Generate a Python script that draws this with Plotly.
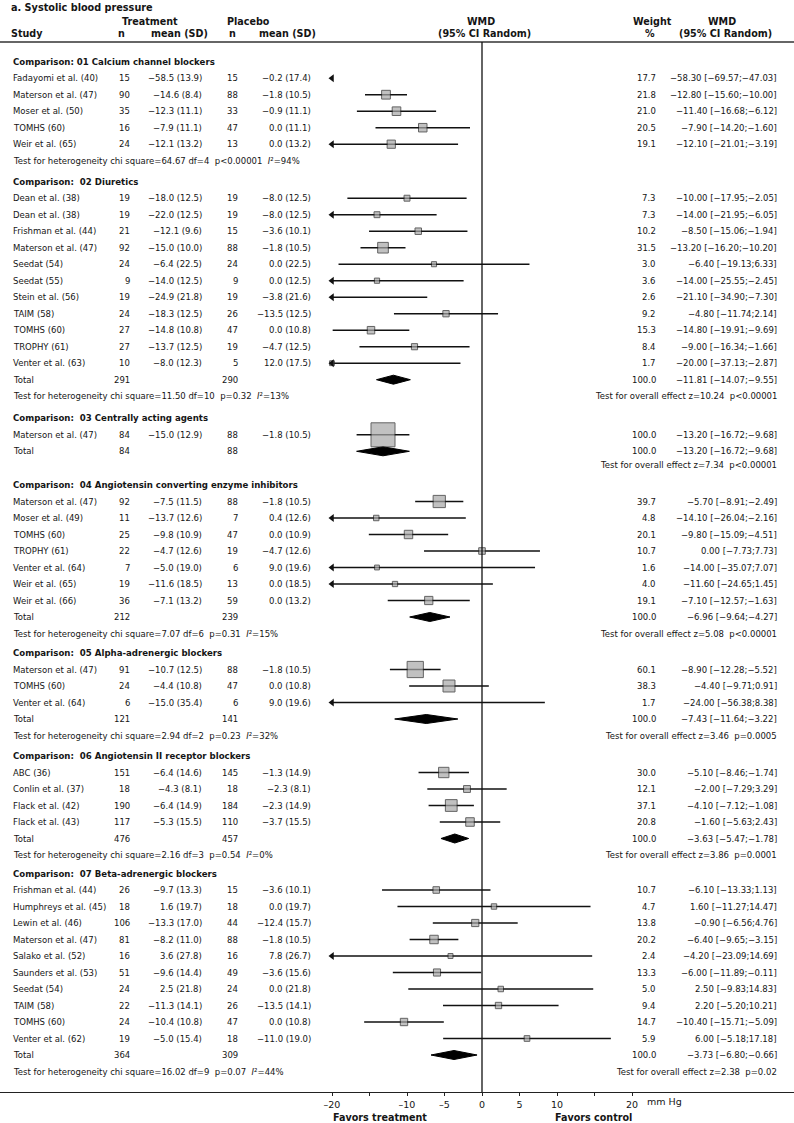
import plotly.graph_objects as go

# ---------------- data ----------------
SECTION_TITLES = [
    "Comparison: 01 Calcium channel blockers",
    "Comparison:\u00a0 02 Diuretics",
    "Comparison:\u00a0 03 Centrally acting agents",
    "Comparison:\u00a0 04 Angiotensin converting enzyme inhibitors",
    "Comparison:\u00a0 05 Alpha-adrenergic blockers",
    "Comparison:\u00a0 06 Angiotensin II receptor blockers",
    "Comparison:\u00a0 07 Beta-adrenergic blockers",
]

SECTION = [0, 0, 0, 0, 0,
           1, 1, 1, 1, 1, 1, 1, 1, 1, 1, 1,
           2,
           3, 3, 3, 3, 3, 3, 3,
           4, 4, 4,
           5, 5, 5, 5,
           6, 6, 6, 6, 6, 6, 6, 6, 6, 6]

STUDY = [
    "Fadayomi et al. (40)", "Materson et al. (47)", "Moser et al. (50)", "TOMHS (60)", "Weir et al. (65)",
    "Dean et al. (38)", "Dean et al. (38)", "Frishman et al. (44)", "Materson et al. (47)", "Seedat (54)",
    "Seedat (55)", "Stein et al. (56)", "TAIM (58)", "TOMHS (60)", "TROPHY (61)", "Venter et al. (63)",
    "Materson et al. (47)",
    "Materson et al. (47)", "Moser et al. (49)", "TOMHS (60)", "TROPHY (61)", "Venter et al. (64)",
    "Weir et al. (65)", "Weir et al. (66)",
    "Materson et al. (47)", "TOMHS (60)", "Venter et al. (64)",
    "ABC (36)", "Conlin et al. (37)", "Flack et al. (42)", "Flack et al. (43)",
    "Frishman et al. (44)", "Humphreys et al. (45)", "Lewin et al. (46)", "Materson et al. (47)",
    "Salako et al. (52)", "Saunders et al. (53)", "Seedat (54)", "TAIM (58)", "TOMHS (60)", "Venter et al. (62)",
]

N_T = [15, 90, 35, 16, 24,
       19, 19, 21, 92, 24, 9, 19, 24, 27, 27, 10,
       84,
       92, 11, 25, 22, 7, 19, 36,
       91, 24, 6,
       151, 18, 190, 117,
       26, 18, 106, 81, 16, 51, 24, 22, 24, 19]
MEAN_T = [-58.5, -14.6, -12.3, -7.9, -12.1,
          -18.0, -22.0, -12.1, -15.0, -6.4, -14.0, -24.9, -18.3, -14.8, -13.7, -8.0,
          -15.0,
          -7.5, -13.7, -9.8, -4.7, -5.0, -11.6, -7.1,
          -10.7, -4.4, -15.0,
          -6.4, -4.3, -6.4, -5.3,
          -9.7, 1.6, -13.3, -8.2, 3.6, -9.6, 2.5, -11.3, -10.4, -5.0]
SD_T = [13.9, 8.4, 11.1, 11.1, 13.2,
        12.5, 12.5, 9.6, 10.0, 22.5, 12.5, 21.8, 12.5, 10.8, 12.5, 12.3,
        12.9,
        11.5, 12.6, 10.9, 12.6, 19.0, 18.5, 13.2,
        12.5, 10.8, 35.4,
        14.6, 8.1, 14.9, 15.5,
        13.3, 19.7, 17.0, 11.0, 27.8, 14.4, 21.8, 14.1, 10.8, 15.4]
N_P = [15, 88, 33, 47, 13,
       19, 19, 15, 88, 24, 9, 19, 26, 47, 19, 5,
       88,
       88, 7, 47, 19, 6, 13, 59,
       88, 47, 6,
       145, 18, 184, 110,
       15, 18, 44, 88, 16, 49, 24, 26, 47, 18]
MEAN_P = [-0.2, -1.8, -0.9, 0.0, 0.0,
          -8.0, -8.0, -3.6, -1.8, 0.0, 0.0, -3.8, -13.5, 0.0, -4.7, 12.0,
          -1.8,
          -1.8, 0.4, 0.0, -4.7, 9.0, 0.0, 0.0,
          -1.8, 0.0, 9.0,
          -1.3, -2.3, -2.3, -3.7,
          -3.6, 0.0, -12.4, -1.8, 7.8, -3.6, 0.0, -13.5, 0.0, -11.0]
SD_P = [17.4, 10.5, 11.1, 11.1, 13.2,
        12.5, 12.5, 10.1, 10.5, 22.5, 12.5, 21.6, 12.5, 10.8, 12.5, 17.5,
        10.5,
        10.5, 12.6, 10.9, 12.6, 19.6, 18.5, 13.2,
        10.5, 10.8, 19.6,
        14.9, 8.1, 14.9, 15.5,
        10.1, 19.7, 15.7, 10.5, 26.7, 15.6, 21.8, 14.1, 10.8, 19.0]
WEIGHT = [17.7, 21.8, 21.0, 20.5, 19.1,
          7.3, 7.3, 10.2, 31.5, 3.0, 3.6, 2.6, 9.2, 15.3, 8.4, 1.7,
          100.0,
          39.7, 4.8, 20.1, 10.7, 1.6, 4.0, 19.1,
          60.1, 38.3, 1.7,
          30.0, 12.1, 37.1, 20.8,
          10.7, 4.7, 13.8, 20.2, 2.4, 13.3, 5.0, 9.4, 14.7, 5.9]
WMD = [-58.30, -12.80, -11.40, -7.90, -12.10,
       -10.00, -14.00, -8.50, -13.20, -6.40, -14.00, -21.10, -4.80, -14.80, -9.00, -20.00,
       -13.20,
       -5.70, -14.10, -9.80, 0.00, -14.00, -11.60, -7.10,
       -8.90, -4.40, -24.00,
       -5.10, -2.00, -4.10, -1.60,
       -6.10, 1.60, -0.90, -6.40, -4.20, -6.00, 2.50, 2.20, -10.40, 6.00]
CI_LO = [-69.57, -15.60, -16.68, -14.20, -21.01,
         -17.95, -21.95, -15.06, -16.20, -19.13, -25.55, -34.90, -11.74, -19.91, -16.34, -37.13,
         -16.72,
         -8.91, -26.04, -15.09, -7.73, -35.07, -24.65, -12.57,
         -12.28, -9.71, -56.38,
         -8.46, -7.29, -7.12, -5.63,
         -13.33, -11.27, -6.56, -9.65, -23.09, -11.89, -9.83, -5.20, -15.71, -5.18]
CI_HI = [-47.03, -10.00, -6.12, -1.60, -3.19,
         -2.05, -6.05, -1.94, -10.20, 6.33, -2.45, -7.30, 2.14, -9.69, -1.66, -2.87,
         -9.68,
         -2.49, -2.16, -4.51, 7.73, 7.07, 1.45, -1.63,
         -5.52, 0.91, 8.38,
         -1.74, 3.29, -1.08, 2.43,
         1.13, 14.47, 4.76, -3.15, 14.69, -0.11, 14.83, 10.21, -5.09, 17.18]

TOTAL_N_T = [None, 291, 84, 212, 121, 476, 364]
TOTAL_N_P = [None, 290, 88, 239, 141, 457, 309]
TOTAL_WMD = [None, -11.81, -13.20, -6.96, -7.43, -3.63, -3.73]
TOTAL_LO = [None, -14.07, -16.72, -9.64, -11.64, -5.47, -6.80]
TOTAL_HI = [None, -9.55, -9.68, -4.27, -3.22, -1.78, -0.66]

HET_CHI = [64.67, 11.50, None, 7.07, 2.94, 2.16, 16.02]
HET_DF = [4, 10, None, 6, 2, 3, 9]
HET_P = ["p<0.00001", "p=0.32", None, "p=0.31", "p=0.23", "p=0.54", "p=0.07"]
HET_I2 = [94, 13, None, 15, 32, 0, 44]
OVERALL_Z = [None, 10.24, 7.34, 5.08, 3.46, 3.86, 2.38]
OVERALL_P = [None, "p<0.00001", "p<0.00001", "p<0.00001", "p=0.0005", "p=0.0001", "p=0.02"]

TICK_VALS = [-20, -10, -5, 0, 5, 10, 20]
TICK_TEXT = ["\u201320", "\u201310", "\u20135", "0", "5", "10", "20"]
MINOR_TICK_VALS = [-15, 15]

# ---------------- layout constants ----------------
W, H = 794, 1123
FONT = "DejaVu Sans"
TXT = "#151515"
X0_PX = 482.0          # pixel of WMD = 0
PX_PER_UNIT = 7.5
CLIP = -20.0
HEAD_Y = [61.7, 181.7, 418.3, 485.0, 653.0, 756.0, 873.5]
STEP = 16.5
AXIS_Y = 1092
HEADER_LINE_Y = 42
BODY = 8.5

X_STUDY, X_NT, X_MT, X_NP, X_MP, X_WT, X_CI = 12, 131, 203, 239, 312, 657, 778


def fmt(v, d):
    s = f"{abs(v):.{d}f}"
    return ("\u2212" + s) if v < 0 else s


annotations = []


def txt(x, y, s, anchor="left", size=BODY, bold=False):
    if bold:
        s = f"<b>{s}</b>"
    annotations.append(dict(x=x / W, xref="paper", y=y, yref="y", text=s, showarrow=False,
                            xanchor=anchor, yanchor="middle", borderpad=0,
                            font=dict(size=size, family=FONT, color=TXT)))


# header
txt(10, 7, "a. Systolic blood pressure", size=9.7, bold=True)
txt(150, 21, "Treatment", "center", 9.6, True)
txt(248.5, 21, "Placebo", "center", 9.6, True)
txt(481, 21, "WMD", "center", 9.6, True)
txt(652.5, 21, "Weight", "center", 9.6, True)
txt(722, 21, "WMD", "center", 9.6, True)
txt(10, 33.5, "Study", "left", 9.6, True)
txt(121.5, 33.5, "n", "center", 9.6, True)
txt(179, 33.5, "mean (SD)", "center", 9.6, True)
txt(232.5, 33.5, "n", "center", 9.6, True)
txt(287.5, 33.5, "mean (SD)", "center", 9.6, True)
txt(484.5, 33.5, "(95% CI Random)", "center", 9.6, True)
txt(650, 33.5, "%", "center", 9.6, True)
txt(725.5, 33.5, "(95% CI Random)", "center", 9.6, True)

# rows
line_x, line_y = [], []
sq_x, sq_y, sq_s = [], [], []
ar_x, ar_y = [], []
dia_x, dia_y = [], []

for s, title in enumerate(SECTION_TITLES):
    hy = HEAD_Y[s]
    txt(X_STUDY, hy, title, bold=True, size=8.6)
    idx = [i for i, sec in enumerate(SECTION) if sec == s]
    y = hy
    for i in idx:
        y += STEP
        txt(X_STUDY, y, STUDY[i])
        txt(X_NT, y, str(N_T[i]), "right")
        txt(X_MT, y, f"{fmt(MEAN_T[i], 1)} ({SD_T[i]:.1f})", "right")
        txt(X_NP, y, str(N_P[i]), "right")
        txt(X_MP, y, f"{fmt(MEAN_P[i], 1)} ({SD_P[i]:.1f})", "right")
        txt(X_WT, y, f"{WEIGHT[i]:.1f}", "right")
        txt(X_CI, y, f"{fmt(WMD[i], 2)} [{fmt(CI_LO[i], 2)};{fmt(CI_HI[i], 2)}]", "right")
        lo, hi = CI_LO[i], CI_HI[i]
        if hi > CLIP:
            line_x += [max(lo, CLIP), min(hi, 20), None]
            line_y += [y, y, None]
        if lo < CLIP:
            ar_x.append(CLIP)
            ar_y.append(y)
        if WMD[i] >= CLIP:
            sq_x.append(WMD[i])
            sq_y.append(y)
            sq_s.append(4.5 + 0.195 * WEIGHT[i])
    if TOTAL_N_T[s] is not None:
        y += STEP
        txt(X_STUDY, y, "Total")
        txt(X_NT, y, str(TOTAL_N_T[s]), "right")
        txt(X_NP, y, str(TOTAL_N_P[s]), "right")
        txt(X_WT, y, "100.0", "right")
        txt(X_CI, y, f"{fmt(TOTAL_WMD[s], 2)} [{fmt(TOTAL_LO[s], 2)};{fmt(TOTAL_HI[s], 2)}]", "right")
        dia_x += [TOTAL_LO[s], TOTAL_WMD[s], TOTAL_HI[s], TOTAL_WMD[s], TOTAL_LO[s], None]
        dia_y += [y, y - 4.5, y, y + 4.5, y, None]
    if HET_CHI[s] is not None:
        y += STEP
        txt(X_STUDY, y, f"Test for heterogeneity chi square={HET_CHI[s]:.2f} df={HET_DF[s]}\u00a0 "
                        f"{HET_P[s]}\u00a0 <i>I</i>\u00b2={HET_I2[s]}%")
    else:
        y += STEP * 0.8
    if OVERALL_Z[s] is not None:
        txt(X_CI, y, f"Test for overall effect z={OVERALL_Z[s]:.2f}\u00a0 {OVERALL_P[s]}", "right")

fig = go.Figure()
fig.add_trace(go.Scatter(x=line_x, y=line_y, mode="lines", line=dict(color="#111", width=1.5),
                         hoverinfo="skip", showlegend=False))
fig.add_trace(go.Scatter(x=dia_x, y=dia_y, mode="lines", fill="toself", fillcolor="#000",
                         line=dict(color="#000", width=1), hoverinfo="skip", showlegend=False))
fig.add_trace(go.Scatter(x=sq_x, y=sq_y, mode="markers",
                         marker=dict(symbol="square", size=sq_s, color="#a8a8a8",
                                     line=dict(color="#222", width=1)),
                         hoverinfo="skip", showlegend=False))
fig.add_trace(go.Scatter(x=ar_x, y=ar_y, mode="markers",
                         marker=dict(symbol="triangle-left", size=7, color="#111", line=dict(width=0)),
                         hoverinfo="skip", showlegend=False))

# footer labels
txt(646, 1101, "mm Hg", "left", 9.5)
txt(332, 1117, "Favors treatment", "left", 9.6, True)
txt(554, 1117, "Favors control", "left", 9.6, True)

shapes = [
    dict(type="line", xref="paper", yref="y", x0=0, x1=1, y0=HEADER_LINE_Y, y1=HEADER_LINE_Y,
         line=dict(color="#333", width=1.5)),
    dict(type="line", xref="x", yref="y", x0=0, x1=0, y0=HEADER_LINE_Y, y1=AXIS_Y,
         line=dict(color="#111", width=1.3)),
]

fig.update_layout(
    width=W, height=H, margin=dict(l=0, r=0, t=0, b=0, pad=0),
    paper_bgcolor="white", plot_bgcolor="white",
    showlegend=False, annotations=annotations, shapes=shapes,
    xaxis=dict(range=[-X0_PX / PX_PER_UNIT, (W - X0_PX) / PX_PER_UNIT], domain=[0, 1],
               showgrid=False, zeroline=False, showline=True, linecolor="#222", linewidth=1.3,
               ticks="outside", ticklen=3, tickcolor="#222", tickvals=TICK_VALS, ticktext=TICK_TEXT,
               minor=dict(tickvals=MINOR_TICK_VALS, ticks="outside", ticklen=3, tickcolor="#222",
                          showgrid=False),
               tickfont=dict(size=9.5, family=FONT, color=TXT),
               anchor="free", position=1 - AXIS_Y / H, fixedrange=True),
    yaxis=dict(range=[H, 0], domain=[0, 1], visible=False, showgrid=False, zeroline=False,
               fixedrange=True),
)

fig.write_html("out.html", config={"displayModeBar": False},
               post_script="document.body.style.margin='0';")
